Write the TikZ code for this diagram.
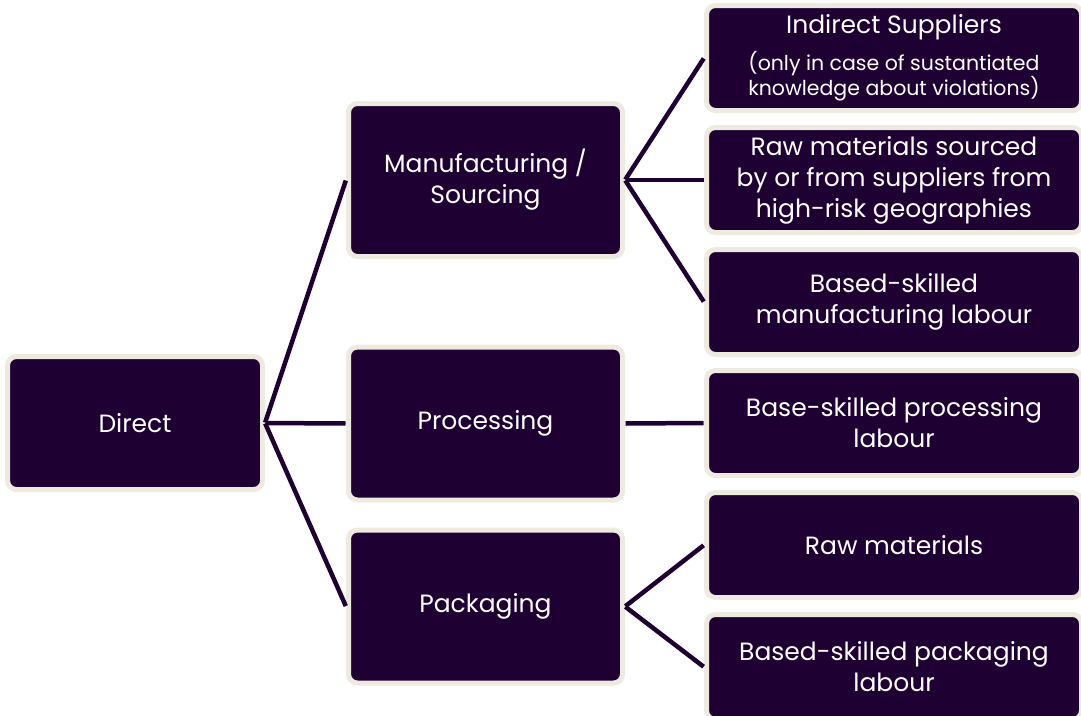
\documentclass[tikz,border=0pt]{standalone}
\usepackage{fontspec}
\setmainfont{Poppins}
\usepackage{tikz}
\definecolor{plum}{HTML}{1F0033}
\definecolor{sand}{HTML}{EDEBE0}

\begin{document}
\begin{tikzpicture}[x=1pt,y=1pt]
            \tikzstyle{every node}+=[inner sep=0pt]
            \tikzstyle{box}=[draw=sand, line width=5pt, fill=plum, rounded corners=9pt, text=white, align=center, font=\fontsize{25}{31}\selectfont]
            \tikzstyle{midbox}=[box, minimum width=274pt, minimum height=153pt]
            \tikzstyle{leafbox}=[box, minimum width=375pt, minimum height=105pt]
            \tikzstyle{link}=[plum, line width=4.5pt, shorten <=0.5pt, shorten >=0.5pt]
            \useasboundingbox (0,0) rectangle (1081,-715);
            \node [box, minimum width=255pt, minimum height=133pt] (direct) at (135,-423) {Direct};
            \node [midbox] (manuf) at (485.5,-180) {Manufacturing /\\Sourcing};
            \node [midbox] (proc) at (485.5,-423.5) {Processing};
            \node [midbox] (pack) at (485.5,-606.5) {Packaging};
            \node [leafbox] (indirect) at (894,-58) {Indirect Suppliers\\[6pt]{\fontsize{20.5}{26}\selectfont (only in case of sustantiated}\\[-6pt]{\fontsize{20.5}{26}\selectfont knowledge about violations)}};
            \node [leafbox] (rawsrc) at (894,-180) {Raw materials sourced\\by or from suppliers from\\high-risk geographies};
            \node [leafbox] (manlab) at (894,-302) {Based-skilled\\manufacturing labour};
            \node [leafbox] (proclab) at (894,-423) {Base-skilled processing\\labour};
            \node [leafbox] (raw) at (894,-545) {Raw materials};
            \node [leafbox] (packlab) at (894,-667) {Based-skilled packaging\\labour};
            \draw [link] (direct.east) -- (manuf.west);
            \draw [link] (direct.east) -- (proc.west);
            \draw [link] (direct.east) -- (pack.west);
            \draw [link] (manuf.east) -- (indirect.west);
            \draw [link] (manuf.east) -- (rawsrc.west);
            \draw [link] (manuf.east) -- (manlab.west);
            \draw [link] (proc.east) -- (proclab.west);
            \draw [link] (pack.east) -- (raw.west);
            \draw [link] (pack.east) -- (packlab.west);
\end{tikzpicture}
\end{document}
